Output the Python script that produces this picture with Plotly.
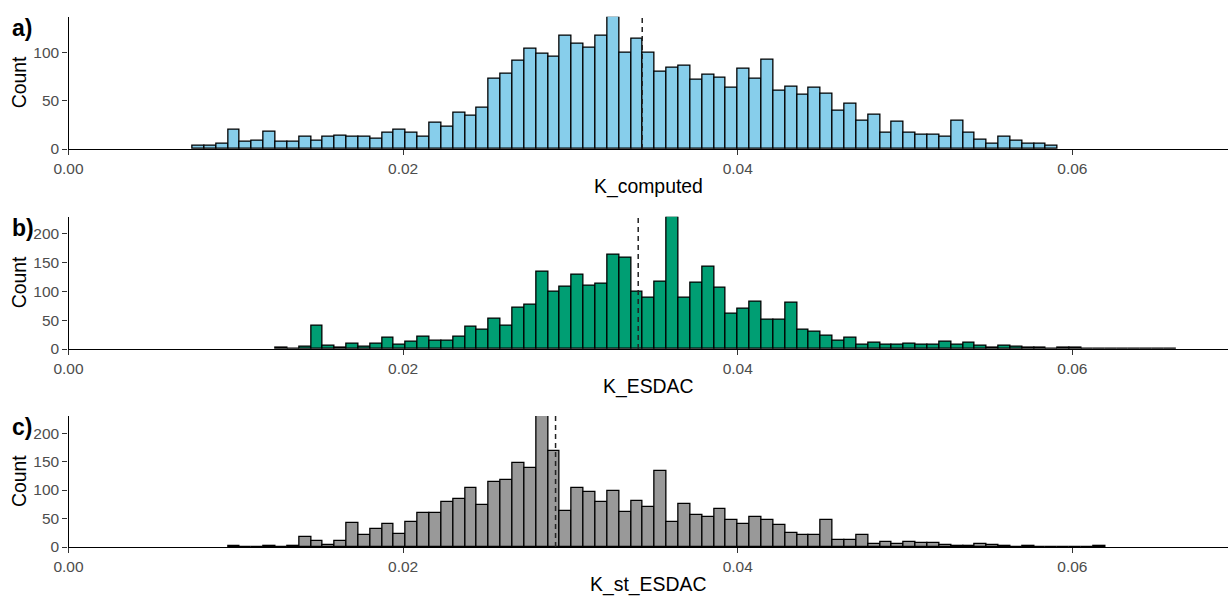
import plotly.graph_objects as go

# ---- data (histogram counts) ----
bin_width = 0.0007085          # width of each histogram bin
bin_anchor = 0.04              # a bin edge falls on this value

a_label = "K_computed"
a_first_bin = -46              # index of first bin relative to anchor
a_counts = [3, 3, 6, 20, 8, 9, 18, 8, 8, 13, 9, 13, 14, 13, 13, 11, 17, 20, 17, 13, 27, 23, 38, 35,
            43, 73, 78, 91, 104, 99, 96, 117, 109, 105, 117, 137, 100, 114, 100, 80, 84, 86, 72, 77, 74, 64,
            83, 73, 92, 60, 65, 56, 64, 57, 40, 47, 29, 36, 17, 28, 17, 15, 15, 13, 29, 17, 10, 6, 13, 9, 6, 6, 3]
a_mean = 0.03429

b_label = "K_ESDAC"
b_first_bin = -39
b_counts = [2, 0, 4, 41, 5, 3, 9, 4, 9, 20, 8, 12, 22, 14, 14, 22, 38, 34, 52, 40, 72, 76, 133,
            100, 108, 129, 110, 113, 164, 158, 99, 88, 116, 229, 88, 114, 142, 106, 61,
            69, 82, 50, 50, 80, 34, 30, 23, 14, 20, 7, 11, 8, 7, 10, 8, 8, 13, 7, 11,
            5, 2, 6, 4, 3, 2, 1, 3, 3, 1, 0, 0, 0, 0, 0, 1, 1]
b_mean = 0.03405

c_label = "K_st_ESDAC"
c_first_bin = -43
c_counts = [2, 0, 0, 1, 0, 1, 17, 11, 4, 11, 42, 21, 31, 41, 22, 44, 59, 59, 79, 84, 104, 74, 114, 118,
            148, 138, 230, 169, 64, 104, 96, 79, 99, 62, 81, 71, 133, 44, 76, 57, 52, 67, 48,
            41, 53, 48, 38, 24, 21, 21, 48, 12, 12, 21, 5, 9, 5, 9, 7, 7, 3, 2, 2, 6, 3, 1, 0, 2,
            0, 0, 0, 0, 0, 1]
c_mean = 0.02911

x_tick_vals = [0.00, 0.02, 0.04, 0.06]
x_max = 0.0693

panels = [
    dict(tag="a)", label=a_label, first=a_first_bin, counts=a_counts, mean=a_mean,
         color="#87CEEB", ticks=[0, 50, 100], top=16.7, bottom=149.0),
    dict(tag="b)", label=b_label, first=b_first_bin, counts=b_counts, mean=b_mean,
         color="#009E73", ticks=[0, 50, 100, 150, 200], top=216.7, bottom=349.0),
    dict(tag="c)", label=c_label, first=c_first_bin, counts=c_counts, mean=c_mean,
         color="#999999", ticks=[0, 50, 100, 150, 200], top=416.0, bottom=547.0),
]

W, H = 1230, 597
PL, PR = 68.5, 1228.0
FONT = "Liberation Sans, Arial, sans-serif"

fig = go.Figure()
layout = dict(
    template="none",
    width=W, height=H, margin=dict(l=0, r=0, t=0, b=0, autoexpand=False),
    plot_bgcolor="white", paper_bgcolor="white",
    showlegend=False, bargap=0, font=dict(family=FONT),
)
annotations = []
shapes = []

for i, p in enumerate(panels):
    n = i + 1
    xs = [bin_anchor + (p["first"] + j + 0.5) * bin_width for j in range(len(p["counts"]))]
    xa = "x" if n == 1 else f"x{n}"
    ya = "y" if n == 1 else f"y{n}"
    fig.add_trace(go.Bar(
        x=xs, y=p["counts"], width=bin_width,
        marker=dict(color=p["color"], line=dict(color="black", width=1.3)),
        xaxis=xa, yaxis=ya, hoverinfo="x+y",
    ))
    ymax = max(p["counts"])
    xkey = "xaxis" if n == 1 else f"xaxis{n}"
    ykey = "yaxis" if n == 1 else f"yaxis{n}"
    layout[xkey] = dict(
        domain=[PL / W, PR / W], range=[0, x_max], anchor=ya, automargin=False,
        tickvals=x_tick_vals, tickformat=".2f",
        showline=True, linecolor="black", linewidth=1.4,
        ticks="outside", ticklen=5, tickwidth=1.2, tickcolor="#333333",
        tickfont=dict(size=15.5, color="#4D4D4D", family=FONT),
        showgrid=False, zeroline=False, fixedrange=True,
    )
    layout[ykey] = dict(
        domain=[1 - p["bottom"] / H, 1 - p["top"] / H], range=[0, ymax], anchor=xa, automargin=False,
        tickvals=p["ticks"],
        showline=True, linecolor="black", linewidth=1.4,
        ticks="outside", ticklen=5, tickwidth=1.2, tickcolor="#333333",
        tickfont=dict(size=15.5, color="#4D4D4D", family=FONT),
        showgrid=False, zeroline=False, fixedrange=True,
    )
    # mean line
    shapes.append(dict(
        type="line", xref=xa, yref=f"{ya} domain", x0=p["mean"], x1=p["mean"], y0=0, y1=1,
        line=dict(color="#222222", width=1.5, dash="5px,4px"),
    ))
    # x title
    annotations.append(dict(
        text=p["label"], xref="paper", yref="paper",
        x=(PL + PR) / 2 / W, y=1 - (p["bottom"] + 37) / H,
        xanchor="center", yanchor="middle", showarrow=False,
        font=dict(size=19.4, color="black", family=FONT),
    ))
    # y title
    annotations.append(dict(
        text="Count", xref="paper", yref="paper", textangle=-90,
        x=18.5 / W, y=1 - (p["top"] + p["bottom"]) / 2 / H,
        xanchor="center", yanchor="middle", showarrow=False,
        font=dict(size=19.4, color="black", family=FONT),
    ))
    # tag
    annotations.append(dict(
        text=f"<b>{p['tag']}</b>", xref="paper", yref="paper",
        x=10 / W, y=1 - (p["top"] + 11) / H,
        xanchor="left", yanchor="middle", showarrow=False,
        font=dict(size=23, color="black", family=FONT),
    ))

layout["annotations"] = annotations
layout["shapes"] = shapes
fig.update_layout(**layout)
fig.write_html("out.html")
